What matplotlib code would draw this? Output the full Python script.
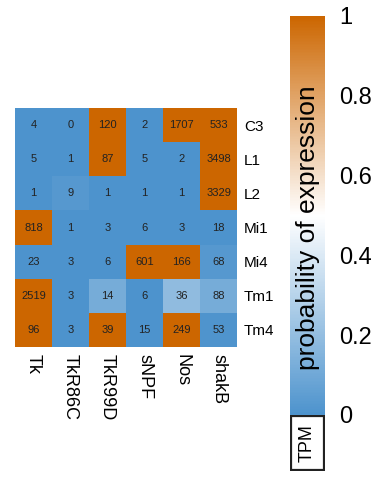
import numpy as np
import matplotlib
matplotlib.use("Agg")
import matplotlib.pyplot as plt
from matplotlib.colors import LinearSegmentedColormap
from matplotlib.patches import Rectangle

plt.rcParams['font.family'] = ['Liberation Sans', 'DejaVu Sans']

cell_types = ["C3", "L1", "L2", "Mi1", "Mi4", "Tm1", "Tm4"]
genes = ["Tk", "TkR86C", "TkR99D", "sNPF", "Nos", "shakB"]

# transcripts per million shown in each cell
tpm = [
    [4, 0, 120, 2, 1707, 533],
    [5, 1, 87, 5, 2, 3498],
    [1, 9, 1, 1, 1, 3329],
    [818, 1, 3, 6, 3, 18],
    [23, 3, 6, 601, 166, 68],
    [2519, 3, 14, 6, 36, 88],
    [96, 3, 39, 15, 249, 53],
]

# probability of expression (cell colour)
prob = [
    [0.0, 0.0, 1.0, 0.0, 1.0, 1.0],
    [0.0, 0.0, 1.0, 0.0, 0.0, 1.0],
    [0.0, 0.03, 0.0, 0.0, 0.0, 1.0],
    [1.0, 0.0, 0.0, 0.0, 0.0, 0.0],
    [0.0, 0.0, 0.0, 1.0, 1.0, 0.03],
    [1.0, 0.0, 0.12, 0.0, 0.19, 0.12],
    [1.0, 0.0, 1.0, 0.0, 1.0, 0.01],
]

cbar_ticks = [0, 0.2, 0.4, 0.6, 0.8, 1]
cbar_ticklabels = ["0", "0.2", "0.4", "0.6", "0.8", "1"]

cmap = LinearSegmentedColormap.from_list(
    "blue_white_orange", ["#4d93cd", "#ffffff", "#cc6600"])

fig = plt.figure(figsize=(3.92, 4.78), dpi=100)

ax = fig.add_axes([0.0383, 0.274, 0.5663, 0.50])
im = ax.imshow(np.array(prob), cmap=cmap, vmin=0, vmax=1, aspect="auto",
               interpolation="nearest")
for i in range(len(cell_types)):
    for j in range(len(genes)):
        ax.text(j, i, str(tpm[i][j]), ha="center", va="center",
                fontsize=8, color="#222222")
ax.set_xticks(range(len(genes)))
ax.set_xticklabels(genes, rotation=-90, fontsize=13)
ax.set_yticks(range(len(cell_types)))
ax.set_yticklabels(cell_types, fontsize=11)
ax.yaxis.tick_right()
ax.tick_params(length=0, pad=5)
for s in ax.spines.values():
    s.set_visible(False)

cax = fig.add_axes([0.740, 0.1318, 0.0893, 0.835])
cb = fig.colorbar(im, cax=cax)
cb.outline.set_visible(False)
cb.set_ticks(cbar_ticks)
cb.set_ticklabels(cbar_ticklabels)
cax.tick_params(length=0, labelsize=17, pad=10)
cax.text(0.5, 0.47, "probability of expression", rotation=90,
         ha="center", va="center", fontsize=19, transform=cax.transAxes)

# TPM legend box under the colour bar
box_ax = fig.add_axes([0.740, 1 - 471 / 478, 0.0893, 56 / 478])
box_ax.set_xlim(0, 1)
box_ax.set_ylim(0, 1)
box_ax.axis("off")
box_ax.add_patch(Rectangle((0.04, 0.02), 0.92, 0.96, fill=False,
                           edgecolor="#222222", linewidth=1.6))
box_ax.text(0.5, 0.5, "TPM", rotation=90, ha="center", va="center",
            fontsize=13)

fig.savefig("out.png", dpi=100)
